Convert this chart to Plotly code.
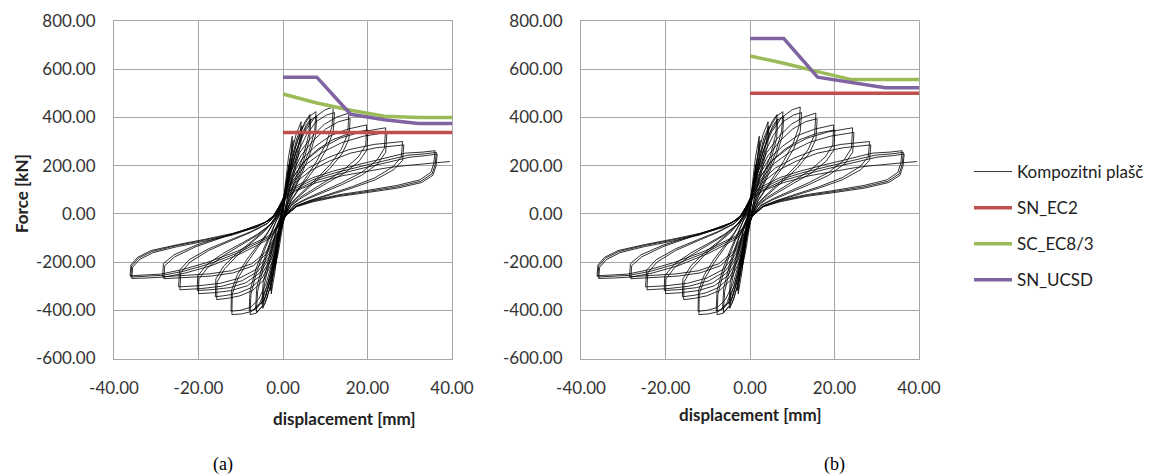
import plotly.graph_objects as go

# ---------------- hysteresis data (Kompozitni plašč) : displacement [mm], force [kN]
c01a_x = [-0.3, 0.4, 0.9, 1.4, 1.1, 0.5, -0.2, -0.8, -1.3, -1.9, -1.6, -0.9, -0.3]
c01a_y = [0, 90, 160, 205, 150, 70, -10, -100, -170, -225, -165, -80, 0]
c01b_x = [-0.3, 0.5, 1.0, 1.5, 1.2, 0.4, -0.3, -0.9, -1.4, -2.0, -1.7, -0.8, -0.3]
c01b_y = [0, 82, 148, 192, 140, 55, -15, -95, -160, -212, -150, -60, 0]

c02a_x = [-0.3, 0.5, 1.3, 2.2, 1.9, 0.9, -0.2, -1.1, -1.9, -2.8, -2.5, -1.4, -0.3]
c02a_y = [0, 115, 235, 322, 250, 120, -10, -120, -240, -332, -258, -110, 0]
c02b_x = [-0.3, 0.6, 1.5, 2.4, 2.1, 0.8, -0.3, -1.2, -2.1, -3.0, -2.7, -1.3, -0.3]
c02b_y = [0, 100, 218, 305, 228, 100, -20, -110, -225, -318, -240, -90, 0]

c04a_x = [-0.3, 0.6, 1.8, 3.1, 4.3, 4.0, 2.8, 1.3, 0.0, -1.2, -2.5, -3.8, -4.8, -4.5, -3.0, -1.6, -0.3]
c04a_y = [0, 110, 240, 330, 382, 310, 200, 90, -20, -130, -260, -352, -392, -300, -180, -70, 0]
c04b_x = [-0.3, 0.7, 2.0, 3.3, 4.5, 4.2, 2.9, 1.2, -0.1, -1.3, -2.7, -4.0, -5.0, -4.7, -3.1, -1.5, -0.3]
c04b_y = [0, 100, 225, 315, 365, 290, 185, 75, -25, -120, -245, -338, -375, -285, -165, -60, 0]

c06a_x = [-0.3, 0.8, 2.2, 3.8, 5.2, 6.4, 6.1, 4.8, 3.0, 1.4, 0.2, -1.0, -2.6, -4.3, -6.3, -6.0, -4.5, -2.8, -1.2, -0.3]
c06a_y = [0, 110, 230, 325, 382, 412, 330, 240, 150, 70, -20, -150, -282, -372, -410, -322, -210, -110, -40, 0]
c06b_x = [-0.3, 0.9, 2.4, 4.0, 5.4, 6.6, 6.3, 4.9, 2.9, 1.3, 0.1, -1.2, -2.8, -4.5, -6.5, -6.2, -4.6, -2.7, -1.1, -0.3]
c06b_y = [0, 100, 215, 308, 365, 395, 312, 222, 135, 58, -25, -140, -268, -358, -395, -305, -195, -98, -30, 0]

c08a_x = [-0.5, 0.3, 1.5, 3.0, 4.6, 6.3, 7.8, 7.5, 6.2, 4.4, 2.8, 1.2, 0.2, -0.8, -2.0, -3.4, -4.8, -6.3, -7.8, -7.6, -6.3, -4.6, -3.0, -1.6, -0.5]
c08a_y = [0, 60, 170, 280, 355, 405, 424, 345, 262, 180, 110, 45, -10, -80, -190, -300, -380, -412, -418, -335, -245, -160, -90, -30, 0]
c08b_x = [-0.6, 0.3, 1.6, 3.2, 4.8, 6.5, 8.0, 7.7, 6.3, 4.4, 2.7, 1.1, 0.1, -0.9, -2.2, -3.6, -5.0, -6.5, -8.0, -7.8, -6.4, -4.6, -2.9, -1.5, -0.6]
c08b_y = [0, 55, 160, 265, 338, 388, 405, 325, 245, 165, 98, 36, -15, -85, -185, -290, -365, -396, -402, -318, -228, -146, -80, -24, 0]

c12a_x = [-0.8, 0.2, 1.6, 3.2, 5.2, 7.5, 10.0, 11.9, 11.6, 10.2, 8.0, 5.8, 3.8, 2.0, 0.5, -0.8, -2.2, -3.8, -5.5, -7.4, -9.8, -12.1, -12.0, -10.6, -8.4, -6.0, -3.8, -2.2, -0.8]
c12a_y = [0, 70, 175, 265, 342, 400, 432, 443, 362, 292, 220, 160, 110, 60, -5, -90, -200, -300, -370, -405, -415, -418, -330, -265, -200, -140, -85, -35, 0]
c12b_x = [-0.9, 0.2, 1.7, 3.4, 5.5, 7.8, 10.3, 12.2, 11.9, 10.4, 8.1, 5.7, 3.6, 1.8, 0.4, -0.9, -2.4, -4.0, -5.8, -7.7, -10.1, -12.3, -12.2, -10.8, -8.5, -5.9, -3.6, -2.0, -0.9]
c12b_y = [0, 62, 162, 250, 326, 382, 410, 420, 342, 272, 202, 145, 98, 50, -10, -95, -195, -290, -355, -388, -400, -404, -318, -252, -188, -128, -76, -28, 0]

c16a_x = [-1.0, 0.2, 1.8, 4.0, 6.8, 9.8, 12.8, 15.6, 15.3, 13.8, 11.2, 8.3, 5.6, 3.2, 1.4, 0.3, -1.0, -2.6, -4.6, -7.2, -10.2, -13.0, -15.7, -15.6, -13.8, -10.8, -7.6, -4.8, -2.6, -1.0]
c16a_y = [0, 75, 170, 255, 320, 372, 402, 418, 330, 268, 205, 152, 108, 68, 35, -15, -100, -200, -275, -318, -340, -350, -356, -282, -228, -172, -122, -80, -38, 0]
c16b_x = [-1.1, 0.2, 1.9, 4.2, 7.1, 10.1, 13.1, 15.9, 15.6, 14.0, 11.2, 8.1, 5.4, 3.0, 1.3, 0.2, -1.1, -2.8, -4.9, -7.5, -10.5, -13.3, -16.0, -15.9, -14.0, -10.8, -7.4, -4.6, -2.4, -1.1]
c16b_y = [0, 68, 158, 240, 303, 352, 382, 395, 310, 250, 190, 140, 98, 60, 28, -18, -100, -192, -265, -306, -328, -338, -344, -270, -216, -162, -114, -72, -32, 0]

c20a_x = [-1.2, 0.2, 2.0, 4.5, 7.8, 11.4, 15.4, 19.8, 19.6, 17.8, 14.6, 10.8, 7.2, 4.2, 2.0, 0.5, -1.1, -2.8, -5.2, -8.4, -12.2, -16.2, -20.0, -19.9, -17.8, -14.0, -9.8, -6.2, -3.2, -1.2]
c20a_y = [0, 70, 155, 228, 282, 326, 352, 369, 285, 236, 186, 142, 104, 70, 38, -10, -90, -185, -255, -298, -318, -327, -331, -270, -222, -172, -128, -90, -48, 0]
c20b_x = [-1.3, 0.2, 2.2, 4.8, 8.1, 11.8, 15.8, 20.1, 19.9, 18.0, 14.6, 10.6, 7.0, 4.0, 1.8, 0.4, -1.2, -3.0, -5.5, -8.8, -12.6, -16.6, -20.3, -20.2, -18.0, -14.0, -9.6, -6.0, -3.0, -1.3]
c20b_y = [0, 64, 145, 214, 266, 308, 334, 348, 266, 218, 170, 130, 94, 62, 32, -14, -88, -178, -245, -286, -306, -314, -318, -258, -210, -162, -120, -84, -44, 0]

c24a_x = [-1.4, 0.2, 2.2, 5.2, 9.0, 13.5, 18.5, 24.3, 24.0, 22.2, 18.6, 14.0, 9.4, 5.6, 2.6, 0.6, -1.2, -3.2, -6.0, -9.8, -14.4, -19.4, -24.4, -24.2, -22.0, -17.6, -12.4, -7.8, -3.8, -1.4]
c24a_y = [0, 68, 150, 220, 272, 314, 340, 357, 272, 222, 172, 130, 95, 64, 36, -8, -85, -175, -240, -278, -300, -310, -315, -245, -200, -152, -112, -78, -42, 0]
c24b_x = [-1.5, 0.2, 2.4, 5.5, 9.4, 14.0, 19.0, 24.6, 24.3, 22.4, 18.6, 13.8, 9.1, 5.3, 2.4, 0.5, -1.3, -3.4, -6.3, -10.2, -14.8, -19.8, -24.7, -24.5, -22.2, -17.6, -12.2, -7.5, -3.6, -1.5]
c24b_y = [0, 62, 140, 206, 256, 296, 322, 338, 255, 207, 160, 120, 87, 58, 32, -10, -82, -168, -230, -266, -288, -298, -303, -234, -190, -145, -106, -73, -38, 0]

c28a_x = [-1.6, 0.2, 2.5, 6.0, 10.5, 15.5, 21.5, 28.3, 28.0, 26.0, 21.8, 16.4, 11.0, 6.4, 3.0, 0.6, -1.3, -3.6, -7.0, -11.8, -17.0, -22.5, -28.2, -28.0, -25.6, -20.6, -14.6, -9.0, -4.4, -1.6]
c28a_y = [0, 62, 135, 190, 232, 266, 288, 300, 236, 195, 150, 113, 82, 56, 32, -6, -80, -160, -215, -245, -258, -264, -269, -215, -178, -136, -100, -68, -38, 0]
c28b_x = [-1.7, 0.2, 2.7, 6.4, 11.0, 16.0, 22.0, 28.6, 28.3, 26.2, 21.8, 16.2, 10.7, 6.1, 2.8, 0.5, -1.4, -3.8, -7.4, -12.2, -17.5, -23.0, -28.5, -28.3, -25.8, -20.6, -14.4, -8.7, -4.2, -1.7]
c28b_y = [0, 56, 126, 178, 219, 252, 274, 286, 222, 183, 141, 106, 76, 52, 29, -8, -78, -154, -207, -236, -249, -255, -261, -206, -170, -130, -95, -64, -35, 0]

c36a_x = [-1.8, 0.0, 2.5, 7.0, 12.0, 18.0, 24.0, 29.0, 33.0, 36.0, 35.7, 35.0, 32.4, 27.0, 20.6, 13.5, 7.5, 3.5, 0.7,
          -1.3, -3.0, -5.5, -10.0, -17.0, -23.0, -28.0, -32.0, -35.8, -35.6, -34.0, -30.8, -25.0, -18.9, -12.0, -6.5, -3.0, -1.8]
c36a_y = [0, 65, 110, 150, 178, 205, 230, 252, 256, 262, 210, 172, 141, 118, 99, 80, 58, 35, -5,
          -60, -100, -125, -165, -215, -245, -262, -266, -268, -222, -190, -161, -136, -115, -88, -55, -25, 0]
c36b_x = [-1.9, 0.0, 2.7, 7.4, 12.5, 18.5, 24.5, 29.5, 33.5, 36.3, 36.0, 35.3, 32.6, 27.0, 20.4, 13.3, 7.3, 3.3, 0.6,
          -1.4, -3.2, -5.8, -10.4, -17.5, -23.5, -28.5, -32.5, -36.0, -35.8, -34.2, -31.0, -25.0, -18.8, -11.8, -6.3, -2.9, -1.9]
c36b_y = [0, 60, 104, 144, 171, 197, 222, 243, 249, 255, 204, 166, 135, 112, 94, 76, 54, 32, -8,
          -58, -96, -120, -160, -208, -238, -255, -259, -262, -216, -184, -156, -131, -110, -84, -56, -22, 0]
c36c_x = [-2.0, 0.0, 2.9, 7.8, 13.0, 19.0, 25.0, 30.0, 34.0, 36.5, 36.2, 35.5, 32.8, 27.2, 20.2, 13.1, 7.1, 3.1, 0.5,
          -1.5, -3.4, -6.1, -10.8, -18.0, -24.0, -29.0, -33.0, -36.2, -36.0, -34.4, -31.2, -24.8, -18.6, -11.6, -6.1, -2.8, -2.0]
c36c_y = [0, 55, 98, 138, 164, 190, 214, 235, 242, 248, 198, 160, 130, 107, 89, 72, 50, 29, -10,
          -55, -92, -116, -155, -202, -232, -250, -254, -257, -212, -180, -152, -127, -106, -80, -52, -20, 0]

tail_x = [-2.0, 0.0, 3.0, 8.0, 14.0, 20.0, 25.0, 29.0, 32.0, 35.0, 37.5, 39.5]
tail_y = [0, 55, 95, 130, 158, 178, 192, 200, 206, 210, 214, 217]

# ---------------- design capacity lines
ec2_a_x = [0, 40]
ec2_a_y = [337, 337]
ec8_a_x = [0, 8, 16, 24, 32, 40]
ec8_a_y = [497, 460, 430, 405, 400, 400]
ucsd_a_x = [0, 8, 16, 24, 32, 40]
ucsd_a_y = [567, 567, 413, 390, 375, 375]

ec2_b_x = [0, 40]
ec2_b_y = [500, 500]
ec8_b_x = [0, 8, 16, 24, 32, 40]
ec8_b_y = [655, 625, 590, 557, 557, 557]
ucsd_b_x = [0, 8, 16, 24, 32, 40]
ucsd_b_y = [727, 727, 567, 545, 523, 523]

x_ticks = [-40, -20, 0, 20, 40]
x_labels = ["-40.00", "-20.00", "0.00", "20.00", "40.00"]
y_ticks = [-600, -400, -200, 0, 200, 400, 600, 800]
y_labels = ["-600.00", "-400.00", "-200.00", "0.00", "200.00", "400.00", "600.00", "800.00"]

cycles = [(c01a_x, c01a_y), (c01b_x, c01b_y), (c02a_x, c02a_y), (c02b_x, c02b_y),
          (c04a_x, c04a_y), (c04b_x, c04b_y), (c06a_x, c06a_y), (c06b_x, c06b_y),
          (c08a_x, c08a_y), (c08b_x, c08b_y), (c12a_x, c12a_y), (c12b_x, c12b_y),
          (c16a_x, c16a_y), (c16b_x, c16b_y), (c20a_x, c20a_y), (c20b_x, c20b_y),
          (c24a_x, c24a_y), (c24b_x, c24b_y), (c28a_x, c28a_y), (c28b_x, c28b_y),
          (c36a_x, c36a_y), (c36b_x, c36b_y), (c36c_x, c36c_y), (tail_x, tail_y)]
hyst_x, hyst_y = [], []
for cx, cy in cycles:
    hyst_x += cx
    hyst_y += cy

W, H = 1155, 474
RED, GREEN, PURPLE = "#C0504D", "#9BBB59", "#8064A2"
FONT = "Lato"

fig = go.Figure()
panels = [("x", "y", (ec2_a_x, ec2_a_y), (ec8_a_x, ec8_a_y), (ucsd_a_x, ucsd_a_y), True),
          ("x2", "y2", (ec2_b_x, ec2_b_y), (ec8_b_x, ec8_b_y), (ucsd_b_x, ucsd_b_y), False)]
for xa, ya, ec2, ec8, ucsd, show in panels:
    fig.add_trace(go.Scatter(x=hyst_x, y=hyst_y, mode="lines", name="Kompozitni plašč",
                             line=dict(color="rgba(0,0,0,0.9)", width=0.9),
                             xaxis=xa, yaxis=ya, showlegend=show, legendgroup="g1"))
    fig.add_trace(go.Scatter(x=ec2[0], y=ec2[1], mode="lines", name="SN_EC2",
                             line=dict(color=RED, width=3.5), xaxis=xa, yaxis=ya,
                             showlegend=show, legendgroup="g2"))
    fig.add_trace(go.Scatter(x=ec8[0], y=ec8[1], mode="lines", name="SC_EC8/3",
                             line=dict(color=GREEN, width=3.5), xaxis=xa, yaxis=ya,
                             showlegend=show, legendgroup="g3"))
    fig.add_trace(go.Scatter(x=ucsd[0], y=ucsd[1], mode="lines", name="SN_UCSD",
                             line=dict(color=PURPLE, width=3.5), xaxis=xa, yaxis=ya,
                             showlegend=show, legendgroup="g4"))

ydom = [1 - 358.5 / H, 1 - 21 / H]
common = dict(showgrid=True, gridcolor="#A6A6A6", gridwidth=1, showline=True,
              linecolor="#A6A6A6", linewidth=1, mirror=True, zeroline=False,
              ticks="", ticklabelstandoff=14, automargin=False,
              tickfont=dict(family=FONT, size=17, color="#333333"))
fig.update_layout(
    width=W, height=H, margin=dict(l=0, r=0, t=0, b=0),
    paper_bgcolor="white", plot_bgcolor="white",
    xaxis=dict(domain=[114 / W, 452 / W], range=[-40, 40], tickvals=x_ticks, ticktext=x_labels,
               anchor="y", **common),
    yaxis=dict(domain=ydom, range=[-600, 800], tickvals=y_ticks, ticktext=y_labels,
               anchor="x", **common),
    xaxis2=dict(domain=[581 / W, 919 / W], range=[-40, 40], tickvals=x_ticks, ticktext=x_labels,
                anchor="y2", **common),
    yaxis2=dict(domain=ydom, range=[-600, 800], tickvals=y_ticks, ticktext=y_labels,
                anchor="x2", **common),
    legend=dict(x=969 / W, y=1 - 154 / H, xanchor="left", yanchor="top",
                font=dict(family=FONT, size=17, color="#222222"),
                itemwidth=38, tracegroupgap=11, bgcolor="rgba(0,0,0,0)"),
    showlegend=True,
)

def ann(text, px, py, **kw):
    d = dict(text=text, x=px / W, y=1 - py / H, xref="paper", yref="paper",
             showarrow=False, xanchor="center", yanchor="middle")
    d.update(kw)
    fig.add_annotation(**d)

ann("<b>Force [kN]</b>", 21, 194, textangle=-90, font=dict(family=FONT, size=17, color="#222222"))
ann("<b>displacement [mm]</b>", 344, 418, font=dict(family=FONT, size=17, color="#222222"))
ann("<b>displacement [mm]</b>", 750, 414, font=dict(family=FONT, size=17, color="#222222"))
ann("(a)", 223, 464, font=dict(family="Liberation Serif", size=18, color="black"))
ann("(b)", 835, 464, font=dict(family="Liberation Serif", size=18, color="black"))

fig.write_html("out.html", config={"displayModeBar": False},
               post_script="document.body.style.margin='0px';")
